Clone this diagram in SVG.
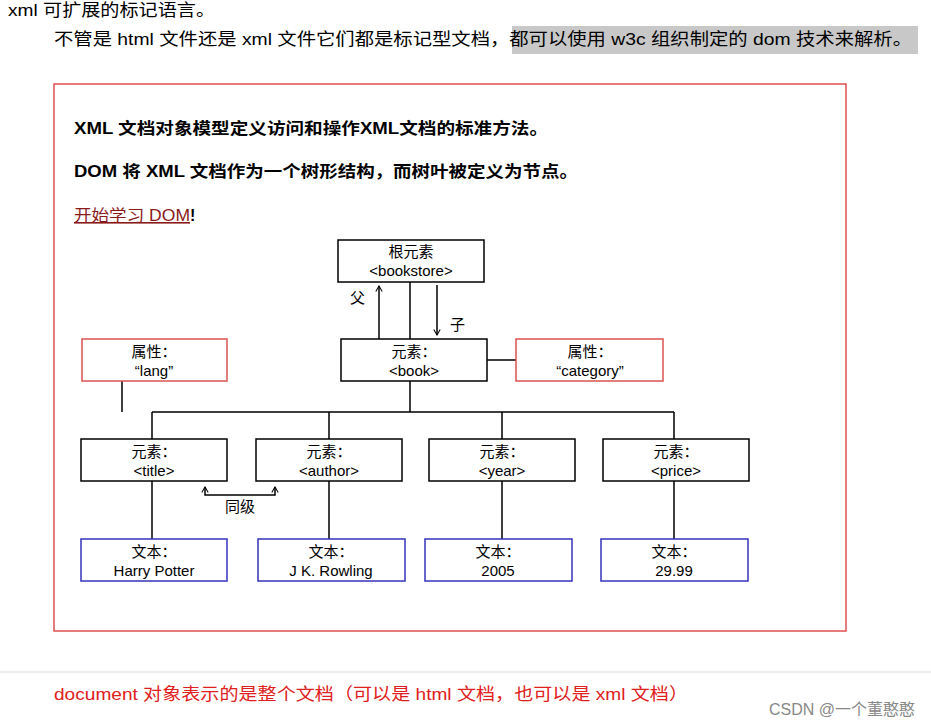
<svg xmlns="http://www.w3.org/2000/svg" width="931" height="727" viewBox="0 0 931 727">
<style>
text{font-family:"Liberation Sans","Noto Sans CJK SC",sans-serif;fill:#000}
.n{font-size:15px;text-anchor:middle}
.b{fill:#fff;stroke:#000;stroke-width:1.5}
.r{fill:#fff;stroke:#d9534f;stroke-width:1.5}
.u{fill:#fff;stroke:#3333bb;stroke-width:1.5}
.l{stroke:#000;stroke-width:1.5;fill:none}
.h{font-size:16px;font-weight:bold}
</style>
<defs><marker id="a" viewBox="0 0 10 10" refX="9" refY="5" markerWidth="8" markerHeight="8" orient="auto-start-reverse" markerUnits="userSpaceOnUse"><path d="M2,1 L9,5 L2,9" fill="none" stroke="#000" stroke-width="1.3"/></marker></defs>
<rect width="931" height="727" fill="#fff"/>
<text x="8" y="16" font-size="17" textLength="207" lengthAdjust="spacingAndGlyphs">xml 可扩展的标记语言。</text>
<rect x="512" y="26" width="406" height="28" fill="#c8c8c8"/>
<text x="54" y="45" font-size="17" textLength="858" lengthAdjust="spacingAndGlyphs">不管是 html 文件还是 xml 文件它们都是标记型文档，都可以使用 w3c 组织制定的 dom 技术来解析。</text>
<rect x="54" y="84" width="792" height="547" fill="#fff" stroke="#e05050" stroke-width="1.5"/>
<text x="74" y="134" class="h" textLength="474" lengthAdjust="spacingAndGlyphs">XML 文档对象模型定义访问和操作XML文档的标准方法。</text>
<text x="74" y="177" class="h" textLength="504" lengthAdjust="spacingAndGlyphs">DOM 将  XML 文档作为一个树形结构，而树叶被定义为节点。</text>
<text x="74" y="221" font-size="16" style="fill:#8b1a1a" text-decoration="underline" textLength="116" lengthAdjust="spacingAndGlyphs">开始学习 DOM</text><text x="190" y="221" class="h">!</text>
<g id="connectors">
<path class="l" d="M410,282V339M410,381V412M152,412H674M122,381V412M487,360H516M152,412V439M329,412V439M502,412V439M674,412V439M152,481V539M329,481V539M502,481V539M674,481V539"/>
<path class="l" d="M379,339V286" marker-end="url(#a)"/>
<path class="l" d="M437,285V335" marker-end="url(#a)"/>
<path class="l" d="M205,487V495H275V487" marker-start="url(#a)" marker-end="url(#a)"/>
</g>
<text x="350" y="303" font-size="15">父</text>
<text x="450" y="330" font-size="15">子</text>
<text x="240" y="512" class="n">同级</text>
<g id="root"><rect class="b" x="338" y="240" width="146" height="42"/><text class="n" x="411" y="257">根元素</text><text class="n" x="411" y="276">&lt;bookstore&gt;</text></g>
<g id="book"><rect class="b" x="341" y="339" width="146" height="42"/><text class="n" x="414" y="357">元素：</text><text class="n" x="414" y="376">&lt;book&gt;</text></g>
<g id="lang"><rect class="r" x="82" y="339" width="145" height="42"/><text class="n" x="154" y="357">属性：</text><text class="n" x="154" y="376">“lang”</text></g>
<g id="category"><rect class="r" x="516" y="339" width="147" height="42"/><text class="n" x="590" y="357">属性：</text><text class="n" x="590" y="376">“category”</text></g>
<g id="title"><rect class="b" x="81" y="439" width="146" height="42"/><text class="n" x="154" y="457">元素：</text><text class="n" x="154" y="476">&lt;title&gt;</text></g>
<g id="author"><rect class="b" x="256" y="439" width="146" height="42"/><text class="n" x="329" y="457">元素：</text><text class="n" x="329" y="476">&lt;author&gt;</text></g>
<g id="year"><rect class="b" x="429" y="439" width="146" height="42"/><text class="n" x="502" y="457">元素：</text><text class="n" x="502" y="476">&lt;year&gt;</text></g>
<g id="price"><rect class="b" x="603" y="439" width="146" height="42"/><text class="n" x="676" y="457">元素：</text><text class="n" x="676" y="476">&lt;price&gt;</text></g>
<g id="t1"><rect class="u" x="81" y="539" width="146" height="42"/><text class="n" x="154" y="557">文本：</text><text class="n" x="154" y="576">Harry Potter</text></g>
<g id="t2"><rect class="u" x="258" y="539" width="147" height="42"/><text class="n" x="331" y="557">文本：</text><text class="n" x="331" y="576">J K. Rowling</text></g>
<g id="t3"><rect class="u" x="425" y="539" width="147" height="42"/><text class="n" x="498" y="557">文本：</text><text class="n" x="498" y="576">2005</text></g>
<g id="t4"><rect class="u" x="601" y="539" width="147" height="42"/><text class="n" x="674" y="557">文本：</text><text class="n" x="674" y="576">29.99</text></g>
<line x1="0" y1="672" x2="931" y2="672" stroke="#ddd"/>
<text x="54" y="700" font-size="17" style="fill:#e02020" textLength="634" lengthAdjust="spacingAndGlyphs">document 对象表示的是整个文档（可以是 html 文档，也可以是 xml 文档）</text>
<text x="915" y="715" font-size="16" text-anchor="end" style="fill:#888">CSDN @一个董憨憨</text>
</svg>
